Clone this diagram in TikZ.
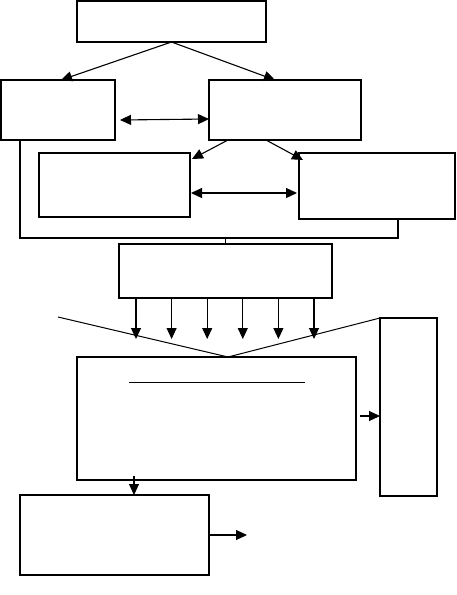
\documentclass[tikz,border=0pt]{standalone}
\usepackage{tikz}
\usetikzlibrary{arrows.meta,calc,positioning}
\definecolor{BXInk}{HTML}{000000}
\tikzset{
  block/.style={draw=BXInk, line width=1.6pt, fill=white, inner sep=0pt, outer sep=0pt, anchor=north west},
  conn/.style={draw=BXInk, line width=1.1pt, -{Triangle[length=11pt,width=10pt]}},
  biconn/.style={conn, {Triangle[length=11pt,width=10pt]}-{Triangle[length=11pt,width=10pt]}},
  plain/.style={draw=BXInk, line width=1.2pt}
}
\newcommand{\blockbox}[5]{%
  \node[block, minimum width=#4pt, minimum height=#5pt] (#1) at (#2,#3) {};
}

\begin{document}
\begin{tikzpicture}[x=1pt,y=-1pt]
  \useasboundingbox (0,0) rectangle (456,595);

  \blockbox{top}{77}{1}{189}{41}
  \blockbox{left1}{1}{80}{114}{60}
  \blockbox{right1}{209}{80}{152}{60}
  \blockbox{left2}{39}{153}{151}{64}
  \blockbox{right2}{299}{153}{156}{66}
  \blockbox{mid}{119}{244}{213}{54}
  \blockbox{tall}{380}{318}{57}{178}
  \blockbox{main}{77}{357}{279}{123}
  \blockbox{bottom}{20}{495}{189}{80}

  % upper part
  \draw[conn] (top.south) -- ([xshift=3pt]left1.north);
  \draw[conn] (top.south) -- ([xshift=-10pt]right1.north);
  \draw[biconn] ([xshift=5pt,yshift=-10pt]left1.east) -- ([yshift=-9pt]right1.east -| right1.west);
  \draw[conn] ([xshift=-57pt]right1.south) -- ([xshift=2pt,yshift=-6pt]left2.north east);
  \draw[conn] ([xshift=-19pt]right1.south) -- ([xshift=4pt,yshift=-7pt]right2.north west);
  \draw[biconn] ([xshift=1pt,yshift=-8pt]left2.east) -- ([xshift=-2pt,yshift=-7pt]right2.west);

  % bracket into the middle box
  \coordinate (join) at (225.5,238);
  \draw[plain] ([xshift=19pt]left1.south west) |- (join) -| ([xshift=-57pt]right2.south east);
  \draw[plain] (join) -- (join |- mid.north);

  \foreach \i in {0,...,5} {
    \coordinate (tip\i) at ({136+35.6*\i},339);
    \draw[conn] (tip\i |- mid.south) -- (tip\i);
  }

  % funnel into the main box
  \coordinate (vleft) at (58,317);
  \coordinate (vtip) at (228,357);
  \draw[draw=BXInk, line width=1pt] (vleft) -- (vtip) -- (tall.north west);
  \draw[draw=BXInk, line width=0.8pt] ([xshift=52pt,yshift=-25pt]main.north west) -- ++(176,0);

  \draw[conn] ([xshift=4pt,yshift=2.5pt]main.east) -- ([yshift=2.5pt]main.east -| tall.west);
  \draw[conn] ([xshift=57pt,yshift=4pt]main.south west) -- ([xshift=57pt]main.south west |- bottom.north);
  \coordinate[right=38pt of bottom.east] (out);
  \draw[conn] (bottom.east) -- (out);
\end{tikzpicture}
\end{document}
